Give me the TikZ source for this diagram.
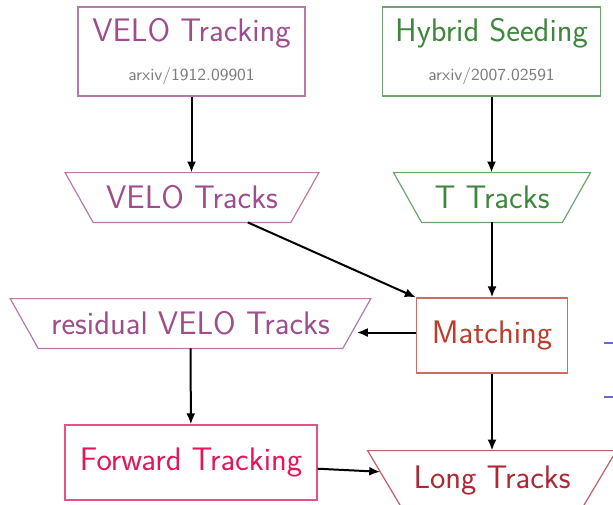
\documentclass[tikz,border=0pt]{standalone}
\usepackage{fontspec}
\usetikzlibrary{calc,arrows.meta}

\definecolor{velo}{RGB}{158,78,140}
\definecolor{seed}{RGB}{62,135,62}
\definecolor{matchc}{RGB}{185,62,45}
\definecolor{fwdc}{RGB}{228,22,90}
\definecolor{longc}{RGB}{172,42,55}
\definecolor{legc}{RGB}{105,105,205}
\definecolor{refgray}{RGB}{125,125,125}

\newcommand{\titlefont}{\sffamily\fontsize{16.3}{18.5}\selectfont}
\newcommand{\arxivfont}{\sffamily\fontsize{8.5}{10}\selectfont\color{refgray}}

\tikzset{
    algo/.style={rectangle, draw=#1!75, text=#1, line width=0.6pt,
        font=\titlefont, align=center},
    tracks/.style={rectangle, text=#1, font=\titlefont,
        minimum height=24.5pt, inner xsep=20.3pt},
    flow/.style={->, line width=1pt},
    legline/.style={legc, line width=1pt},
}

\begin{document}
\begin{tikzpicture}[x=0.5pt, y=-0.5pt, >={Latex[length=5.5pt,width=4.5pt]}]
    \useasboundingbox (0,0) rectangle (613,504);
    \clip (0,0) rectangle (613,504);

    % reconstruction steps
    \node[algo=velo, minimum width=113.5pt, minimum height=44.5pt] (velotrk) at (191.5,51.5)
        {VELO Tracking\\[1pt]\arxivfont arxiv/1912.09901};
    \node[algo=seed, minimum width=109pt, minimum height=44.5pt] (seeding) at (491.5,51.5)
        {Hybrid Seeding\\[1pt]\arxivfont arxiv/2007.02591};
    \node[algo=matchc, minimum width=75.5pt, minimum height=37.5pt] (match) at (492,335.5) {Matching};
    \node[algo=fwdc, minimum width=126pt, minimum height=37.5pt] (fwd) at (191,462.5) {Forward Tracking};

    % track containers, outlined as upside-down trapezia
    \node[tracks=velo] (velotr) at (192,197.5) {VELO Tracks};
    \node[tracks=seed] (ttr) at (492,197.5) {T Tracks};
    \node[tracks=velo] (resid) at (190.5,323.5) {residual VELO Tracks};
    \node[tracks=longc, minimum height=29pt, minimum width=124pt] (long) at (492,480) {Long Tracks};
    \foreach \n/\col/\sl in {velotr/velo/14pt, ttr/seed/14pt, resid/velo/14pt, long/longc/17.5pt}
        \draw[draw=\col!75, line width=0.6pt] (\n.north west) -- (\n.north east)
            -- ([xshift=-\sl]\n.south east) -- ([xshift=\sl]\n.south west) -- cycle;

    \coordinate (matchout) at ([yshift=1.5pt]match.west);
    \coordinate (residin) at ([xshift=-7pt]resid.east);
    \coordinate (longin) at ($(long.north west)!0.36!([xshift=17.5pt]long.south west)$);

    % data flow
    \draw[flow] (velotrk) -- (velotrk |- velotr.north);
    \draw[flow] (seeding) -- (seeding |- ttr.north);
    \draw[flow] (velotr) -- (match.north west);
    \draw[flow] (ttr) -- (match);
    \draw[flow] (matchout) -- (residin |- matchout);
    \draw[flow] (resid) -- (fwd);
    \draw[flow] (fwd) -- (longin);
    \draw[flow] (match) -- (long);

    % legend lines running off the right edge
    \coordinate (leg1) at (604,343);
    \coordinate (leg2) at (604,397);
    \draw[legline] (leg1) -- ++(20,0);
    \draw[legline] (leg2) -- ++(20,0);
\end{tikzpicture}
\end{document}
